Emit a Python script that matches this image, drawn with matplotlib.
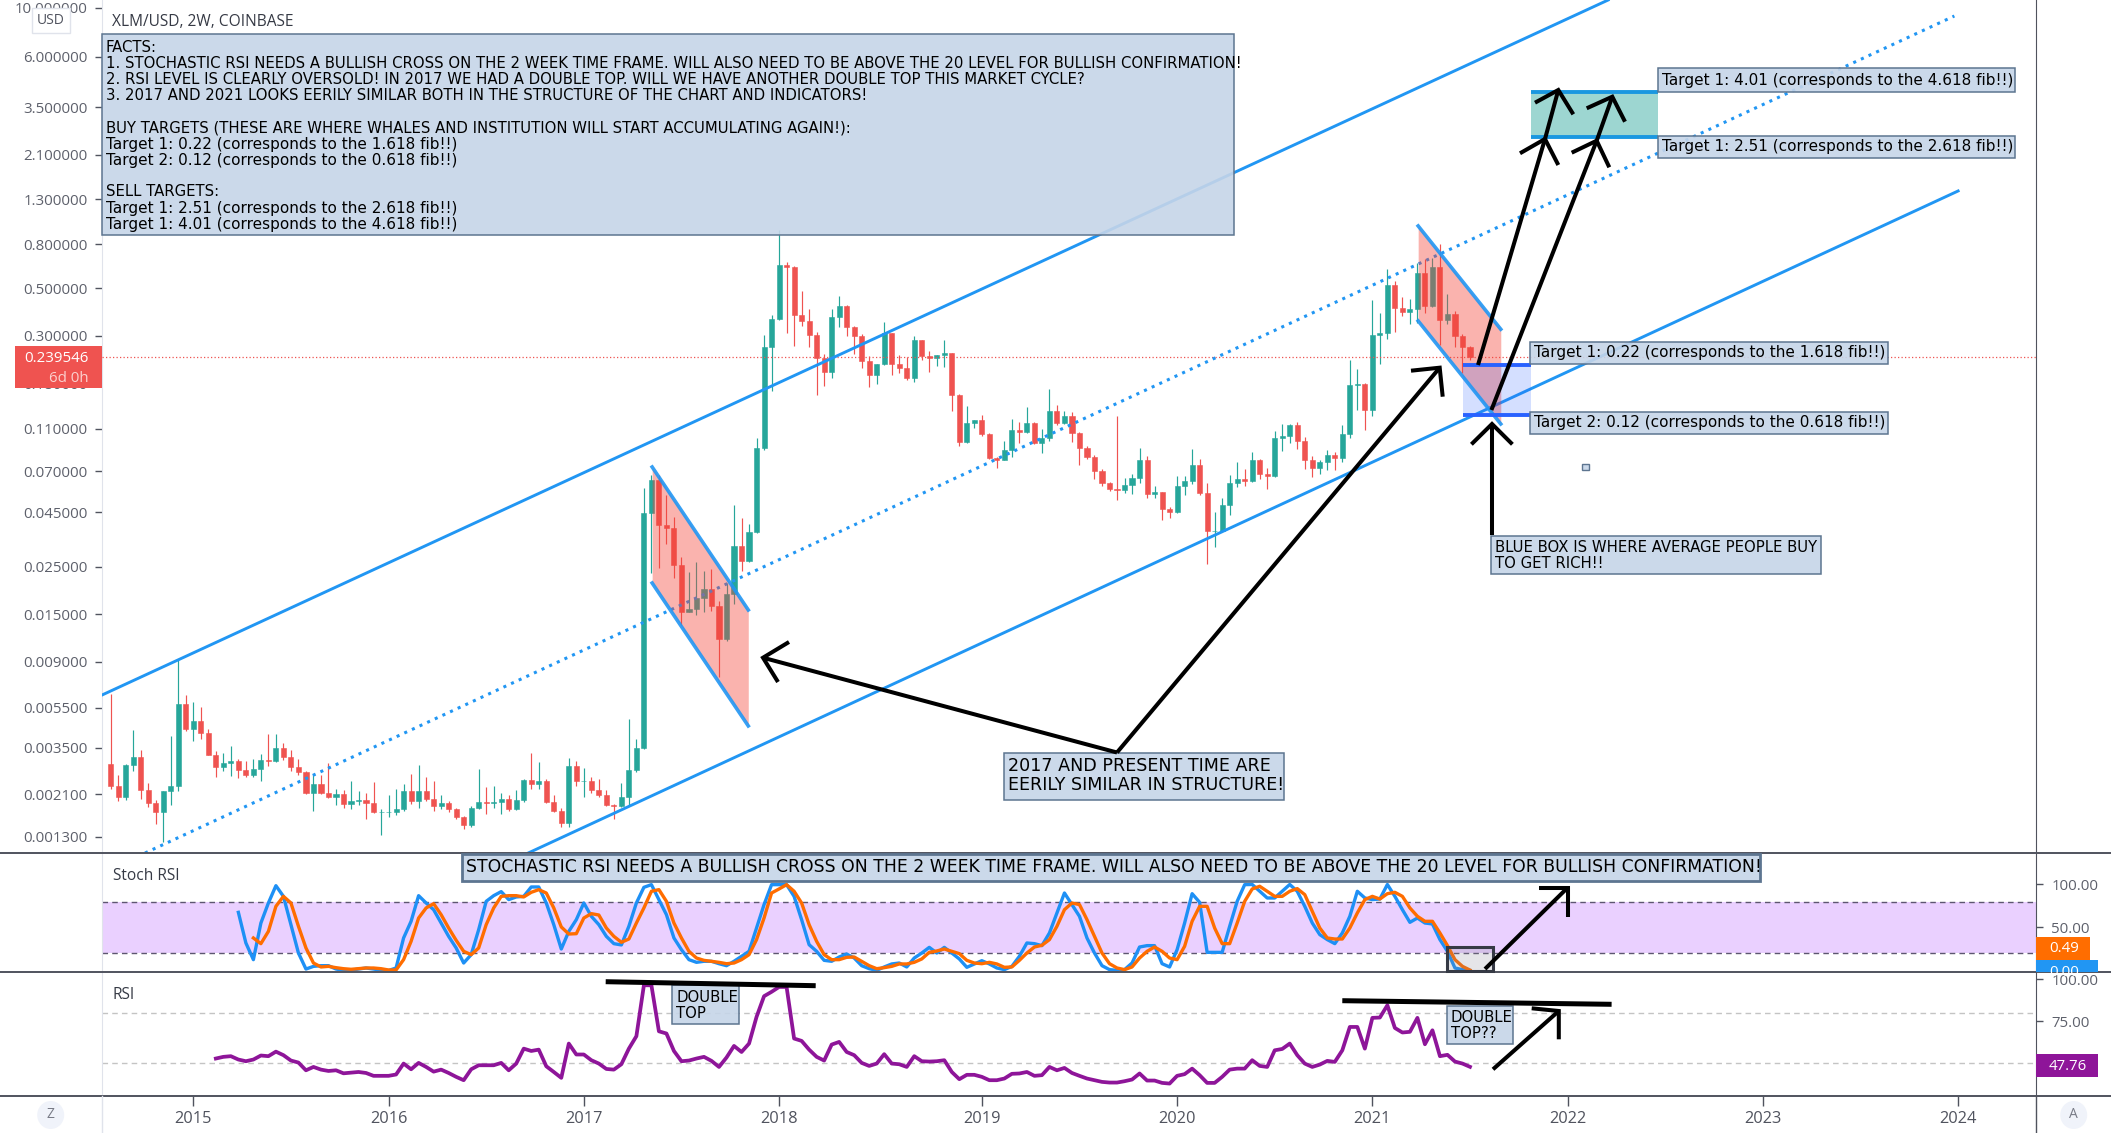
import numpy as np
import matplotlib
matplotlib.use("Agg")
import matplotlib.pyplot as plt
from matplotlib.patches import Rectangle, Ellipse

# XLM/USD 2W candles, open is the previous close
first_open = 0.00300
closes = [
    .00236, .00211, .00298, .00323, .00228, .00197, .00179, .00224, .00238, .00571,
    .00438, .00475, .00421, .00332, .00291, .00304, .00310, .00282, .00267, .00283,
    .00315, .00311, .00356, .00324, .00291, .00276, .00220, .00241, .00220, .00211,
    .00217, .00196, .00201, .00203, .00197, .00179, .00179, .00179, .00185, .00224,
    .00201, .00224, .00206, .00191, .00197, .00185, .00170, .00155, .00188, .00199,
    .00197, .00199, .00206, .00185, .00203, .00253, .00241, .00249, .00200, .00182,
    .00160, .00295, .00250, .00250, .00226, .00215, .00193, .00191, .00210, .00280,
    .00355, .0444, .0637, .0390, .0378, .0254, .0153, .0158, .0179, .0196,
    .0164, .0115, .0186, .0314, .0265, .0362, .0892, .266, .358, .642,
    .630, .373, .353, .302, .236, .203, .368, .412, .329, .299,
    .228, .196, .221, .308, .221, .211, .190, .285, .240, .237,
    .243, .250, .159, .0957, .117, .121, .104, .0805, .0789, .0878,
    .109, .106, .117, .0945, .0998, .133, .117, .127, .105, .0896,
    .0815, .0699, .0615, .0576, .0569, .0604, .0650, .0789, .0545, .0558,
    .0465, .0450, .0596, .0629, .0745, .0552, .0369, .0369, .0485, .0615,
    .0642, .0629, .0789, .0678, .0662, .100, .102, .115, .0968, .0789,
    .0722, .0772, .0832, .0805, .104, .177, .178, .135, .302, .308,
    .518, .404, .387, .399, .590, .412, .627, .355, .379, .298, .266, .2395,
]
highs = [
    .00640, .00266, .00300, .00433, .00349, .00245, .00204, .00224, .00405, .00932,
    .00627, .00584, .00553, .00438, .00344, .00339, .00364, .00318, .00310, .00318,
    .00334, .00414, .00414, .00376, .00349, .00318, .00279, .00271, .00266, .00304,
    .00230, .00226, .00249, .00224, .00219, .00247, .00186, .00215, .00229, .00241,
    .00270, .00297, .00261, .00250, .00215, .00201, .00188, .00172, .00191, .00284,
    .00234, .00238, .00219, .00215, .00226, .00256, .00339, .00306, .00256, .00215,
    .00187, .00320, .00310, .00286, .00261, .00256, .00226, .00196, .00245, .00485,
    .00391, .0582, .0672, .0672, .0542, .0425, .0277, .0236, .0263, .0239,
    .0244, .0174, .0209, .0488, .0423, .0397, .0994, .302, .373, .934,
    .661, .634, .485, .400, .311, .246, .400, .457, .415, .332,
    .307, .240, .221, .347, .309, .243, .238, .299, .285, .254,
    .243, .285, .250, .161, .141, .121, .128, .105, .0815, .0968,
    .122, .119, .139, .118, .110, .169, .143, .134, .132, .106,
    .0914, .0832, .0713, .0621, .126, .0650, .0678, .0896, .0824, .0596,
    .0558, .0474, .0662, .0662, .0888, .0797, .0615, .0450, .0523, .0671,
    .0772, .0713, .0859, .0797, .0722, .108, .116, .116, .119, .101,
    .0824, .0789, .0878, .0859, .115, .232, .209, .181, .440, .383,
    .614, .539, .454, .443, .653, .681, .693, .803, .468, .390, .304, .269,
]
lows = [
    .00230, .00201, .00203, .00279, .00207, .00190, .00158, .00130, .00193, .00225,
    .00428, .00384, .00394, .00330, .00261, .00279, .00265, .00259, .00261, .00260,
    .00250, .00294, .00306, .00312, .00279, .00266, .00217, .00181, .00217, .00209,
    .00194, .00187, .00186, .00193, .00167, .00178, .00140, .00170, .00173, .00181,
    .00196, .00187, .00201, .00182, .00186, .00179, .00167, .00150, .00152, .00186,
    .00175, .00187, .00176, .00182, .00184, .00200, .00230, .00230, .00198, .00179,
    .00153, .00152, .00236, .00211, .00219, .00211, .00192, .00167, .00189, .00191,
    .00276, .00351, .0235, .0248, .0321, .0222, .0134, .0153, .0149, .0153,
    .0155, .00762, .0113, .0168, .0239, .0262, .0358, .0878, .165, .354,
    .309, .269, .332, .266, .159, .175, .190, .330, .300, .246,
    .212, .172, .178, .218, .196, .200, .187, .183, .230, .203,
    .216, .214, .133, .0921, .0945, .111, .102, .0797, .0725, .0789,
    .0815, .0942, .105, .0935, .0850, .0968, .115, .116, .0957, .0745,
    .0797, .0642, .0596, .0564, .0513, .0552, .0545, .0615, .0523, .0523,
    .0414, .0423, .0444, .0540, .0607, .0540, .0257, .0309, .0367, .0436,
    .0588, .0596, .0621, .0642, .0580, .0656, .0868, .0945, .0888, .0713,
    .0656, .0678, .0706, .0710, .0772, .100, .135, .109, .127, .222,
    .290, .312, .369, .341, .344, .384, .409, .271, .341, .266, .200, .232,
]

# Stoch RSI, K starts at bar 17 and D at bar 19
stoch_k_start = 17
stoch_k = [
    67.6, 32.0, 12.6, 55.2, 78.5, 98.6, 86.2, 53.3, 20.3, 1.7, 4.8, 5.6, 5.6, 1.7,
    .2, .2, 1.7, 2.9, 1.7, .2, 0, 2.9, 37.8, 57.2, 87.0, 78.5, 70.7, 55.2, 39.7, 26.2,
    8.7, 18.4, 47.5, 80.4, 87.0, 91.7, 82.4, 85.5, 86.2, 97.1, 97.1, 78.5, 53.3, 25.0,
    45.5, 59.1, 78.5, 63.0, 53.3, 39.7, 31.2, 29.7, 51.4, 78.5, 96.7, 99.8, 82.4, 64.9,
    37.8, 24.2, 12.6, 9.5, 10.7, 10.7, 7.9, 5.6, 10.7, 16.5, 22.3, 49.4, 76.6, 99.8,
    99.8, 99.8, 86.2, 59.1, 30.0, 22.3, 11.8, 10.7, 15.7, 19.2, 14.5, 5.6, 2.1, .2,
    4.1, 7.6, 8.7, 4.1, 14.5, 20.3, 26.9, 20.3, 26.9, 20.3, 13.4, 3.7, 7.6, 11.4, 7.6,
    2.9, 1.0, 4.8, 16.5, 32.0, 31.2, 28.9, 43.6, 66.9, 90.1, 76.6, 63.0, 37.8, 20.3,
    5.6, 1.0, .2, 1.0, 8.7, 27.3, 28.9, 28.9, 7.9, 4.1, 24.2, 55.2, 89.3, 79.3, 21.1,
    21.1, 21.1, 51.4, 80.4, 99.8, 100, 92.1, 84.3, 84.3, 92.1, 100, 92.1, 74.6, 55.2,
    41.7, 35.9, 31.2, 43.6, 63.0, 92.1, 84.3, 82.4, 83.1, 100, 86.2, 70.7, 56.0, 61.0,
    55.2, 54.1, 35.9, 22.3, 2.9, 1.0, 0,
]
stoch_d_start = 19
stoch_d = [
    37.8, 31.2, 45.5, 74.6, 86.2, 78.5, 51.4, 26.2, 8.7, 4.1, 4.8, 3.3, 2.1, 1.4, 2.1,
    2.9, 2.9, 2.1, .6, .6, 12.6, 33.9, 61.0, 72.7, 77.7, 64.9, 49.4, 35.1, 22.3, 18.4,
    26.2, 53.3, 72.7, 86.2, 87.0, 87.0, 85.5, 90.9, 94.0, 90.1, 72.7, 50.6, 42.4, 42.8,
    61.0, 66.1, 64.5, 49.4, 39.7, 32.8, 36.6, 55.2, 72.7, 92.1, 94.0, 80.4, 55.2, 37.8,
    22.3, 14.5, 11.8, 10.7, 9.5, 7.9, 8.7, 12.6, 18.4, 35.9, 61.0, 90.1, 94.8, 99.8,
    92.1, 78.5, 53.3, 33.9, 18.4, 12.6, 12.6, 15.3, 15.7, 10.7, 5.6, 2.1, 3.3, 4.8, 7.6,
    7.6, 9.5, 13.4, 21.1, 22.7, 25.0, 22.3, 19.6, 11.8, 8.7, 7.9, 9.5, 7.6, 3.7, 4.1,
    11.8, 20.3, 27.3, 29.3, 35.9, 51.4, 70.7, 78.5, 76.6, 59.1, 39.7, 20.3, 7.9, 2.9,
    1.0, 4.1, 14.5, 22.3, 27.3, 22.3, 14.5, 12.6, 28.1, 57.2, 74.6, 74.6, 49.4, 31.2,
    31.2, 55.2, 80.4, 94.8, 97.9, 92.1, 86.2, 86.2, 92.1, 95.2, 88.2, 68.8, 49.4, 37.8,
    36.6, 36.6, 49.4, 66.9, 82.4, 86.2, 83.1, 89.3, 90.9, 86.2, 72.7, 63.0, 57.2, 57.2,
    43.6, 28.9, 12.6, 4.8, .49,
]

# RSI starts at bar 14
rsi_start = 14
rsi = [
    52.7, 53.7, 54.1, 52.1, 51.1, 52.1, 54.5, 54.1, 56.8, 54.7, 51.5, 50.3, 45.7, 47.7,
    46.1, 45.3, 45.7, 43.9, 44.3, 44.7, 44.1, 42.4, 42.4, 42.4, 43.2, 49.7, 46.3, 50.1,
    47.7, 44.9, 46.1, 44.1, 41.8, 39.8, 46.3, 48.7, 48.7, 48.7, 50.1, 45.7, 49.7, 58.6,
    57.2, 58.0, 48.1, 44.7, 41.2, 61.6, 55.1, 55.1, 51.7, 49.7, 46.5, 46.1, 49.3, 58.6,
    66.0, 96.3, 96.3, 68.9, 67.6, 57.2, 51.1, 51.5, 52.7, 53.7, 51.3, 47.7, 53.3, 60.2,
    56.6, 61.6, 77.5, 89.8, 92.4, 95.3, 95.3, 64.6, 63.2, 58.0, 53.7, 51.5, 61.0, 62.6,
    56.6, 54.7, 50.1, 48.3, 49.7, 55.3, 49.7, 49.3, 47.7, 54.1, 51.1, 50.9, 51.1, 51.7,
    44.7, 40.4, 43.0, 43.0, 41.8, 39.8, 39.8, 40.8, 43.6, 43.8, 44.7, 42.4, 42.8, 47.7,
    45.7, 47.1, 44.1, 42.4, 40.8, 39.8, 38.8, 38.4, 38.4, 39.2, 40.2, 43.8, 39.6, 39.6,
    38.2, 37.8, 42.4, 43.4, 46.7, 42.8, 38.2, 38.2, 41.8, 46.1, 46.7, 46.7, 51.7, 48.3,
    47.7, 57.6, 58.4, 61.6, 54.7, 49.7, 47.7, 49.1, 51.3, 50.7, 57.6, 71.5, 71.5, 58.6,
    76.9, 77.1, 84.4, 70.9, 68.2, 68.6, 76.9, 61.2, 69.5, 54.1, 54.9, 50.9, 49.7, 47.76,
]

# axis ticks
year_bars = [11, 37, 63, 89, 116, 142, 168, 194, 220, 246]
year_labels = ["2015", "2016", "2017", "2018", "2019", "2020", "2021", "2022", "2023", "2024"]
price_ticks = [10.16, 6, 3.5, 2.1, 1.3, .8, .5, .3, .18, .11, .07, .045, .025, .015, .009, .0055, .00357, .00217, .00137]
price_labels = ["10.000000", "6.000000", "3.500000", "2.100000", "1.300000", "0.800000", "0.500000",
                "0.300000", "0.180000", "0.110000", "0.070000", "0.045000", "0.025000", "0.015000",
                "0.009000", "0.005500", "0.003500", "0.002100", "0.001300"]

# drawings on the price chart as (bar, price)
channel_upper = ([-1.16, 199.4], [.00630, 11.07])
channel_mid = ([4.57, 245.5], [.001153, 9.32])
channel_lower = ([55.6, 246.0], [.001153, 1.421])
flag_2017 = ([72.1, 84.9], [.0731, .01572], [.0210, .00452])
flag_2021 = ([174.1, 185.1], [.9755, .3214], [.3514, .1161])
buy_zone = ([180.1, 189.1], [.128, .22])
sell_zone = ([189.1, 206.0], [2.54, 4.12])
last_price = .2395

W, H = 2111, 1133
GREEN, RED = "#26a69a", "#ef5350"
BLUE = "#2196f3"
AXIS = "#50535e"
TICK_FONT = "Open Sans"


def pane(y0, y1):
    return [101.5 / W, 1 - y1 / H, (2036 - 101.5) / W, (y1 - y0) / H]


fig = plt.figure(figsize=(W / 100, H / 100), dpi=100)
ax = fig.add_axes(pane(0, 853))
ax_st = fig.add_axes(pane(853, 972))
ax_rsi = fig.add_axes(pane(972, 1096))
for a in (ax, ax_st, ax_rsi):
    a.set_xlim(-1.225, 256.37)
    for s in a.spines.values():
        s.set_visible(False)
    a.spines["left"].set_visible(True)
    a.spines["left"].set_color("#e0e3eb")
    a.spines["right"].set_visible(True)
    a.spines["right"].set_color(AXIS)
    a.set_xticks([])

# candles
bars = np.arange(len(closes))
c = np.array(closes)
o = np.array([first_open] + closes[:-1])
colors = [GREEN if cl >= op else RED for cl, op in zip(c, o)]
ax.set_yscale("log")
ax.set_ylim(.001153, 11.07)
ax.vlines(bars, lows, highs, colors=colors, lw=.85, zorder=2)
ax.bar(bars, np.abs(c - o), bottom=np.minimum(c, o), width=.68, color=colors,
       edgecolor=colors, lw=.4, zorder=3)
ax.set_yticks(price_ticks)
ax.set_yticklabels(price_labels)
ax.minorticks_off()
ax.tick_params(axis="y", length=5, width=1, color=AXIS, labelcolor="#5d606b", labelsize=10.8, pad=5)
for t in ax.get_yticklabels():
    t.set_family(TICK_FONT)

# channel and drawings
ax.plot(*channel_upper, color=BLUE, lw=2.1, zorder=5)
ax.plot(*channel_lower, color=BLUE, lw=2.1, zorder=5)
ax.plot(*channel_mid, color=BLUE, lw=2.2, ls=(0, (1, 1.75)), zorder=5)
ax.axhline(last_price, color=RED, lw=.9, ls=(0, (1, 1.8)), zorder=4)
for xs, top, bottom in (flag_2017, flag_2021):
    ax.fill_between(xs, bottom, top, color="#f44336", alpha=.4, lw=0, zorder=6)
    ax.plot(xs, top, color=BLUE, lw=2.6, zorder=7, alpha=.9)
    ax.plot(xs, bottom, color=BLUE, lw=2.6, zorder=7, alpha=.9)
ax.fill_between(buy_zone[0], *buy_zone[1], color="#2962ff", alpha=.2, lw=0, zorder=6)
ax.fill_between(sell_zone[0], *sell_zone[1], color=GREEN, alpha=.45, lw=0, zorder=6)
for y in buy_zone[1]:
    ax.plot(buy_zone[0], [y, y], color="#2962ff", lw=2.8, zorder=7, solid_capstyle="butt")
for y in sell_zone[1]:
    ax.plot(sell_zone[0], [y, y], color="#1a97e0", lw=2.8, zorder=7, solid_capstyle="butt")

# stoch rsi pane
ax_st.set_ylim(-1.75, 136.6)
ax_st.axhspan(20, 80, color="#9915ff", alpha=.2, lw=0)
for lvl in (20, 80):
    ax_st.axhline(lvl, color="#5d5670", lw=1, ls=(0, (4, 3)))
ax_st.plot(np.arange(len(stoch_k)) + stoch_k_start, stoch_k, color="#1e90f5", lw=2.4, zorder=3)
ax_st.plot(np.arange(len(stoch_d)) + stoch_d_start, stoch_d, color="#ff6d00", lw=2.4, zorder=4)
ax_st.yaxis.tick_right()
ax_st.set_yticks([100, 50])
ax_st.set_yticklabels(["100.00", "50.00"])

# rsi pane
ax_rsi.set_ylim(30.4, 104.2)
for lvl in (80, 50, 30):
    ax_rsi.axhline(lvl, color="#c4c4c4", lw=1, ls=(0, (4, 3)))
ax_rsi.plot(np.arange(len(rsi)) + rsi_start, rsi, color="#8e1599", lw=2.7, zorder=3)
ax_rsi.yaxis.tick_right()
ax_rsi.set_yticks([100, 75])
ax_rsi.set_yticklabels(["100.00", "75.00"])
ax_rsi.set_xticks(year_bars)
ax_rsi.set_xticklabels(year_labels)
ax_rsi.tick_params(axis="x", length=7, width=1, color=AXIS, labelcolor=AXIS, labelsize=11.8, pad=4)
for t in ax_rsi.get_xticklabels():
    t.set_family(TICK_FONT)
for a in (ax_st, ax_rsi):
    a.tick_params(axis="y", length=5, width=1, color=AXIS, labelcolor="#5d606b", labelsize=10.8, pad=6)
    for t in a.get_yticklabels():
        t.set_family(TICK_FONT)

# overlay in screen pixels for notes, tags and pane frames
ov = fig.add_axes([0, 0, 1, 1], zorder=10)
ov.set_xlim(0, W)
ov.set_ylim(H, 0)
ov.axis("off")
ov.patch.set_alpha(0)

for y in (853, 972, 1096):
    ov.plot([0, W], [y, y], color=AXIS, lw=1.4, zorder=1)
ov.plot([101.5, 101.5], [1096, H], color="#e0e3eb", lw=1, zorder=1)
ov.plot([2036, 2036], [1096, H], color=AXIS, lw=1, zorder=1)

BOX_FACE = (.775, .835, .91, .9)
BOX_EDGE = "#5d7590"
NOTE_FONT = "DejaVu Sans"


def note(x0, y0, x1, y1, lines, size=10.7, edge_w=1.1):
    ov.add_patch(Rectangle((x0, y0), x1 - x0, y1 - y0, facecolor=BOX_FACE, edgecolor=BOX_EDGE, lw=edge_w, zorder=2))
    for y, s in lines:
        # mixed case lines run wider in the reference than this font does
        line_size = size * 1.03 if any(ch.islower() for ch in s) else size
        ov.text(x0 + 4, y, s, fontsize=line_size, family=NOTE_FONT, color="black",
                va="center", ha="left", zorder=3)


note(101.5, 34, 1234, 235, [
    (47, "FACTS:"),
    (63, "1. STOCHASTIC RSI NEEDS A BULLISH CROSS ON THE 2 WEEK TIME FRAME. WILL ALSO NEED TO BE ABOVE THE 20 LEVEL FOR BULLISH CONFIRMATION!"),
    (79, "2. RSI LEVEL IS CLEARLY OVERSOLD! IN 2017 WE HAD A DOUBLE TOP. WILL WE HAVE ANOTHER DOUBLE TOP THIS MARKET CYCLE?"),
    (95, "3. 2017 AND 2021 LOOKS EERILY SIMILAR BOTH IN THE STRUCTURE OF THE CHART AND INDICATORS!"),
    (128, "BUY TARGETS (THESE ARE WHERE WHALES AND INSTITUTION WILL START ACCUMULATING AGAIN!):"),
    (144, "Target 1: 0.22 (corresponds to the 1.618 fib!!)"),
    (160, "Target 2: 0.12 (corresponds to the 0.618 fib!!)"),
    (192, "SELL TARGETS:"),
    (209, "Target 1: 2.51 (corresponds to the 2.618 fib!!)"),
    (225, "Target 1: 4.01 (corresponds to the 4.618 fib!!)"),
])
note(1657.7, 68.3, 2015, 91.7, [(80, "Target 1: 4.01 (corresponds to the 4.618 fib!!)")])
note(1657.7, 135.7, 2015, 158.3, [(147, "Target 1: 2.51 (corresponds to the 2.618 fib!!)")])
note(1529.6, 341.7, 1888, 364.3, [(353, "Target 1: 0.22 (corresponds to the 1.618 fib!!)")])
note(1529.6, 411.7, 1888, 434.3, [(423, "Target 2: 0.12 (corresponds to the 0.618 fib!!)")])
note(1491.4, 535.7, 1820.5, 574.3, [(547.7, "BLUE BOX IS WHERE AVERAGE PEOPLE BUY"), (563.3, "TO GET RICH!!")])
note(1004, 752.5, 1284, 799.5, [(766, "2017 AND PRESENT TIME ARE"), (785, "EERILY SIMILAR IN STRUCTURE!")], size=12.6)
note(461.8, 854, 1760.4, 881, [(867.5, "STOCHASTIC RSI NEEDS A BULLISH CROSS ON THE 2 WEEK TIME FRAME. WILL ALSO NEED TO BE ABOVE THE 20 LEVEL FOR BULLISH CONFIRMATION!")], size=12.4, edge_w=2)
note(672.3, 985.3, 739.3, 1024.3, [(998, "DOUBLE"), (1013.7, "TOP")])
note(1446.7, 1005.7, 1513.3, 1044.3, [(1018, "DOUBLE"), (1033.7, "TOP??")])
ov.add_patch(Rectangle((1582.4, 464.3), 6.2, 6, facecolor=BOX_FACE, edgecolor=BOX_EDGE, lw=1, zorder=2))
ov.add_patch(Rectangle((1446.7, 947), 46.6, 24, facecolor=(.5, .5, .55, .2), edgecolor="#363a45", lw=2.2, zorder=2))

# hand drawn arrows as polylines
arrow_paths = [
    [(1117, 752.5), (763, 657.7)],
    [(789, 642), (763, 657.7), (778, 682)],
    [(1117, 752.5), (1439.7, 367.7)],
    [(1411, 370.7), (1439.7, 367.7), (1442.7, 396.7)],
    [(1478, 365), (1545, 139)],
    [(1520, 153.3), (1545, 139), (1558.3, 165)],
    [(1545, 139), (1558.3, 90)],
    [(1535, 102.7), (1558.3, 90), (1573.3, 114.3)],
    [(1491.4, 410), (1596.7, 140.7)],
    [(1571.7, 152.7), (1596.7, 140.7), (1609.3, 167.3)],
    [(1596.7, 140.7), (1612.3, 96.7)],
    [(1586.7, 108.3), (1612.3, 96.7), (1625, 121.7)],
    [(1492, 535), (1492, 424)],
    [(1471.4, 444.3), (1492, 424), (1512.4, 444.3)],
    [(1485, 969), (1567.6, 887.7)],
    [(1539, 887.7), (1567.6, 887.7), (1567.6, 916.7)],
    [(1493, 1069.3), (1558.8, 1011)],
    [(1531.7, 1008.3), (1558.8, 1011), (1558.8, 1039.3)],
]
for path in arrow_paths:
    xs, ys = zip(*path)
    ov.plot(xs, ys, color="black", lw=2.9, zorder=4, solid_joinstyle="miter", solid_capstyle="butt")
for p0, p1 in (((605.7, 981.7), (815.7, 985.7)), ((1342.3, 1000.7), (1611.6, 1004.3))):
    ov.plot([p0[0], p1[0]], [p0[1], p1[1]], color="black", lw=3.6, zorder=4, solid_capstyle="butt")


def tag(x0, y0, x1, y1, color, s, tx, ty, size=10.8, txt_color="white"):
    r = Rectangle((x0, y0), x1 - x0, y1 - y0, facecolor=color, edgecolor="none", zorder=5)
    ov.add_patch(r)
    t = ov.text(tx, ty, s, color=txt_color, fontsize=size, family=TICK_FONT, ha="left", va="center", zorder=6)
    t.set_clip_path(r)


tag(2036, 937, 2090, 960, "#ff6d00", "0.49", 2049, 949)
tag(2036, 960, 2098, 972, "#2196f3", "0.00", 2049, 972)
tag(2036, 1054, 2098, 1077, "#8e1599", "47.76", 2049, 1066)

# last price tag
ov.add_patch(Rectangle((15, 346), 86.5, 41.7, facecolor=RED, edgecolor="none", zorder=5))
ov.text(89, 358, "0.239546", color="white", fontsize=10.8, family=TICK_FONT, ha="right", va="center", zorder=6)
ov.text(89, 378, "6d 0h", color="#fbd0ce", fontsize=10.8, family=TICK_FONT, ha="right", va="center", zorder=6)

# usd and small buttons
ov.add_patch(Rectangle((31.6, 8), 38.8, 25, facecolor="white", edgecolor="#e0e3eb", lw=1, zorder=5))
ov.text(51, 20.5, "USD", color=AXIS, fontsize=10, family=TICK_FONT, ha="center", va="center", zorder=6)
for cx, s in ((50.7, "Z"), (2073.7, "A")):
    ov.add_patch(Ellipse((cx, 1115), 27, 28, facecolor="#f0f3fa", edgecolor="none", zorder=5))
    ov.text(cx, 1115, s, color="#787b86", fontsize=10, family=TICK_FONT, ha="center", va="center", zorder=6)

# pane titles
ov.text(112, 22, "XLM/USD, 2W, COINBASE", color="#363a45", fontsize=11.2, family=TICK_FONT, va="center", zorder=6)
ov.text(113, 876, "Stoch RSI", color="#363a45", fontsize=11.2, family=TICK_FONT, va="center", zorder=6)
ov.text(113, 995, "RSI", color="#363a45", fontsize=11.2, family=TICK_FONT, va="center", zorder=6)

fig.savefig("out.png", dpi=100)
